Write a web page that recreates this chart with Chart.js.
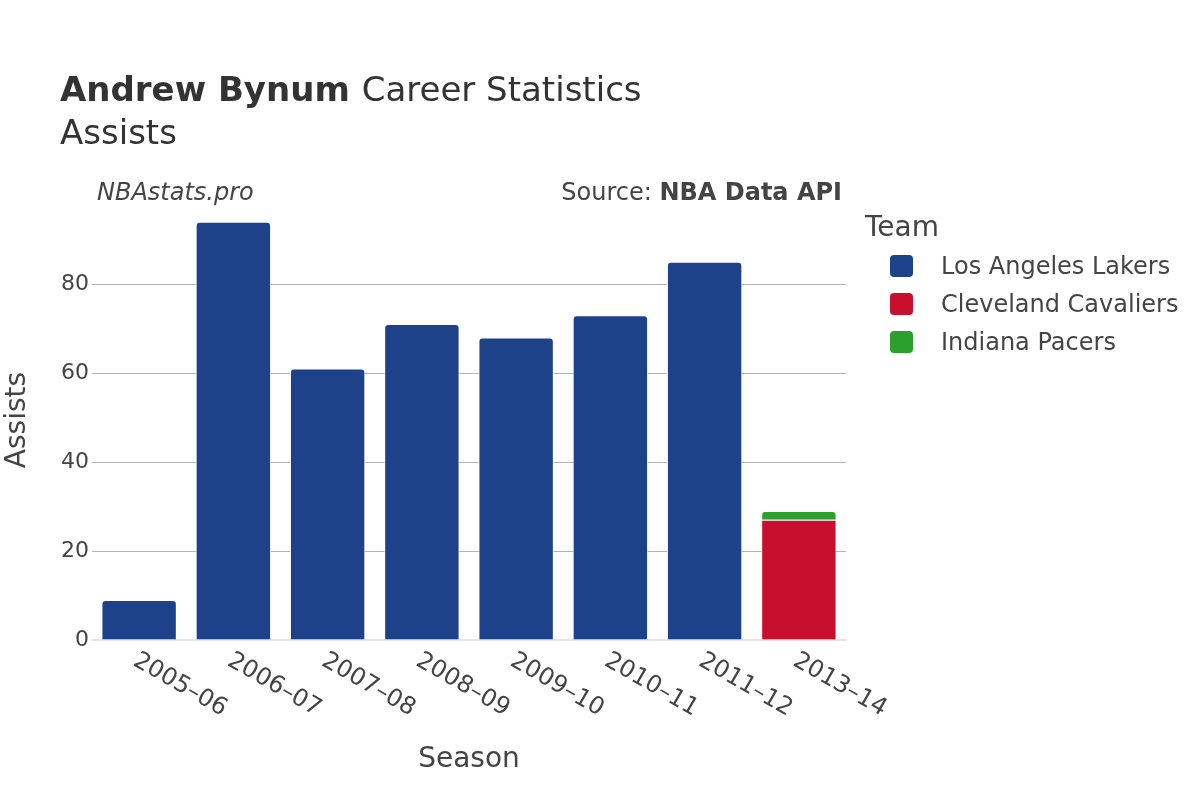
<!DOCTYPE html>
<html lang="en">
<head>
  <meta charset="UTF-8">
  <title>Andrew Bynum Career Statistics - Assists</title>
  <script src="https://cdn.jsdelivr.net/npm/chart.js"></script>
  <style>
    html, body { margin: 0; padding: 0; background: #fff; }
    #wrap { width: 1200px; height: 800px; }
  </style>
</head>
<body>
  <div id="wrap"><canvas id="grafica" width="1200" height="800"></canvas></div>

  <script>
    // datos del gráfico
    const seasons = ["2005–06", "2006–07", "2007–08", "2008–09", "2009–10", "2010–11", "2011–12", "2013–14"];
    const lakers = [9, 94, 61, 71, 68, 73, 85, null];
    const cavaliers = [null, null, null, null, null, null, null, 27];
    const pacers = [null, null, null, null, null, null, null, 2];
    const teamNames = ["Los Angeles Lakers", "Cleveland Cavaliers", "Indiana Pacers"];
    const teamColors = ["#1d428a", "#c8102e", "#2ca02c"];
    const yTicks = [0, 20, 40, 60, 80];

    const FONT = "'DejaVu Sans', sans-serif";
    const TXT = "#444444";

    const totals = seasons.map((s, i) => (lakers[i] || 0) + (cavaliers[i] || 0) + (pacers[i] || 0));
    const yMax = Math.max(...totals) * 1.052;

    // textos, leyenda y etiquetas del eje x
    const decor = {
      id: "decor",
      afterDraw(chart) {
        const ctx = chart.ctx;
        const area = chart.chartArea;
        const xs = chart.scales.x;
        ctx.save();
        ctx.fillStyle = "#333333";
        ctx.textBaseline = "alphabetic";
        ctx.textAlign = "left";

        // título
        ctx.font = "bold 34px " + FONT;
        ctx.fillText("Andrew Bynum", 60, 101);
        const w = ctx.measureText("Andrew Bynum ").width;
        ctx.font = "34px " + FONT;
        ctx.fillText("Career Statistics", 60 + w, 101);
        ctx.fillText("Assists", 60, 144);

        // fuente
        ctx.fillStyle = TXT;
        ctx.font = "italic 24px " + FONT;
        ctx.fillText("NBAstats.pro", 97, 200);
        ctx.textAlign = "right";
        ctx.font = "bold 24px " + FONT;
        const bw = ctx.measureText("NBA Data API").width;
        ctx.fillText("NBA Data API", 842, 200);
        ctx.font = "24px " + FONT;
        ctx.fillText("Source: ", 842 - bw, 200);

        // leyenda
        ctx.textAlign = "left";
        ctx.textBaseline = "middle";
        ctx.font = "28px " + FONT;
        ctx.fillText("Team", 865, 229);
        ctx.font = "24px " + FONT;
        teamNames.forEach((name, i) => {
          const cy = 266 + i * 38;
          ctx.fillStyle = teamColors[i];
          ctx.beginPath();
          ctx.roundRect(890, cy - 11, 23, 22, 4);
          ctx.fill();
          ctx.fillStyle = TXT;
          ctx.fillText(name, 941, cy + 2);
        });

        // etiquetas del eje x giradas
        ctx.font = "24px " + FONT;
        seasons.forEach((s, i) => {
          const px = xs.getPixelForValue(i);
          ctx.save();
          ctx.translate(px - 4, area.bottom + 19);
          ctx.rotate(Math.PI / 6);
          ctx.textAlign = "left";
          ctx.textBaseline = "middle";
          ctx.fillText(s, 0, 0);
          ctx.restore();
        });

        // títulos de ejes
        ctx.font = "28px " + FONT;
        ctx.textAlign = "center";
        ctx.fillText("Season", (area.left + area.right) / 2, 760);
        ctx.save();
        ctx.translate(18, (area.top + area.bottom) / 2);
        ctx.rotate(-Math.PI / 2);
        ctx.fillText("Assists", 0, 0);
        ctx.restore();

        ctx.restore();
      }
    };

    const ctx = document.getElementById("grafica").getContext("2d");
    new Chart(ctx, {
      type: "bar",
      data: {
        labels: seasons,
        datasets: [
          { label: teamNames[0], data: lakers, backgroundColor: teamColors[0] },
          { label: teamNames[1], data: cavaliers, backgroundColor: teamColors[1] },
          { label: teamNames[2], data: pacers, backgroundColor: teamColors[2] }
        ].map(d => Object.assign(d, {
          borderRadius: 4,
          borderWidth: 1,
          borderColor: "rgba(255,255,255,0.9)",
          categoryPercentage: 0.8,
          barPercentage: 1
        }))
      },
      options: {
        responsive: false,
        animation: false,
        layout: { padding: { left: 52, right: 354, top: 200, bottom: 160 } },
        scales: {
          x: {
            stacked: true,
            ticks: { display: false },
            grid: { display: false, drawTicks: false },
            border: { display: true, color: "#e5e5e5", width: 2 },
            afterFit: s => { s.height = 0; }
          },
          y: {
            stacked: true,
            min: 0,
            max: yMax,
            afterBuildTicks: s => { s.ticks = yTicks.map(v => ({ value: v })); },
            ticks: { color: TXT, font: { family: FONT, size: 22 }, padding: 3 },
            grid: {
              drawTicks: false,
              color: c => c.tick && c.tick.value === 0 ? "rgba(0,0,0,0)" : "#b4b4b4",
              lineWidth: 1
            },
            border: { display: false },
            afterFit: s => { s.width = 40; }
          }
        },
        plugins: {
          legend: { display: false },
          title: { display: false },
          tooltip: { enabled: false }
        }
      },
      plugins: [decor]
    });
  </script>
</body>
</html>
